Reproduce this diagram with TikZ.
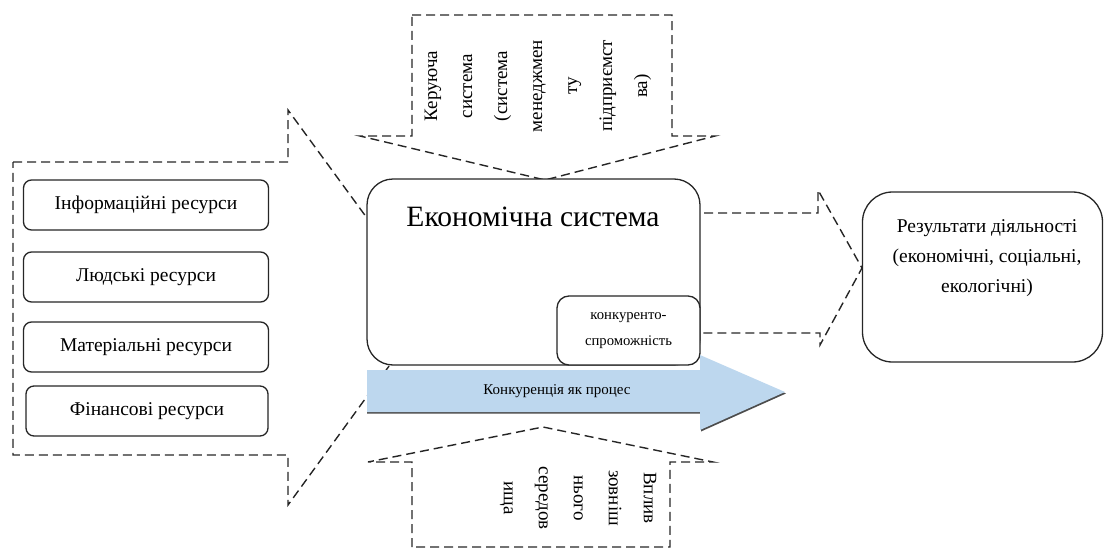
\documentclass[tikz,border=0pt]{standalone}
\usepackage{fontspec}
\setmainfont{Liberation Serif}
\begin{document}
\begin{tikzpicture}[x=1pt,y=-1pt,
  dashline/.style={draw=black!85, line width=1.4pt, dash pattern=on 9pt off 5pt, line join=miter},
  resbox/.style={draw=black!85, line width=1.3pt, rounded corners=8pt, fill=white,
     minimum width=245pt, minimum height=50pt, inner sep=0pt, font=\fontsize{19.5}{22}\selectfont},
  bigbox/.style={draw=black!85, line width=1.3pt, fill=white, inner sep=0pt}
]
\useasboundingbox (0,0) rectangle (1104,549);
% left dashed block arrow (resources)
\draw[dashline] (13,162) -- (288,162) -- (288,110) -- (432,307) -- (288,505) -- (288,455) -- (13,455) -- cycle;
% top dashed block arrow (management)
\draw[dashline] (412,15) -- (672,15) -- (672,136) -- (715,136) -- (545,180) -- (360,136) -- (412,136) -- cycle;
% bottom dashed block arrow (environment)
\draw[dashline] (412,547) -- (412,462) -- (368,462) -- (543,427) -- (713,462) -- (670,462) -- (670,547) -- cycle;
% right dashed block arrow (results)
\draw[dashline] (690,213) -- (818,213) -- (818,190) -- (862,268) -- (820,345) -- (820,333) -- (690,333);

% top arrow text
\node[rotate=90, align=center, font=\fontsize{19}{35}\selectfont] (mgmt) at (538,86)
  {Керуюча\\система\\(система\\менеджмен\\ту\\підприємст\\ва)};
% bottom arrow text
\node[rotate=-90, align=center, font=\fontsize{19}{35}\selectfont] (env) at (578,498)
  {Вплив\\зовніш\\нього\\середов\\ища};

% resource boxes
\node[resbox] (r1) at (146,205) {Інформаційні ресурси};
\node[resbox] (r2) at (146,277) {Людські ресурси};
\node[resbox] (r3) at (146,347) {Матеріальні ресурси};
\node[resbox, minimum width=242pt] (r4) at (147,411) {Фінансові ресурси};

% economic system box
\node[bigbox, rounded corners=26pt, minimum width=333pt, minimum height=186pt] (econ) at (533.5,272) {};
\node[font=\fontsize{29.5}{32}\selectfont] (econt) at (533,217) {Економічна система};
\node[bigbox, rounded corners=12pt, minimum width=143pt, minimum height=69pt, align=center,
      font=\fontsize{14.7}{26}\selectfont] (comp) at (628.5,330.5) {конкуренто-\\спроможність};

% blue process arrow
\fill[black!70] (367,371.5) -- (701,371.5) -- (701,356.5) -- (786,393.5) -- (701,431.5) -- (701,413.5) -- (367,413.5) -- cycle;
\fill[fill={rgb,255:red,189;green,215;blue,238}] (367,370) -- (700,370) -- (700,355) -- (785,392) -- (700,430) -- (700,412) -- (367,412) -- cycle;
\node[font=\fontsize{15}{17}\selectfont] (proc) at (557,391) {Конкуренція як процес};

% results box
\node[bigbox, rounded corners=30pt, minimum width=240pt, minimum height=170pt] (res) at (982.5,277) {};
\node[align=center, font=\fontsize{19.5}{30}\selectfont] (rest) at (987,258)
  {Результати діяльності\\(економічні, соціальні,\\екологічні)};
\end{tikzpicture}
\end{document}
